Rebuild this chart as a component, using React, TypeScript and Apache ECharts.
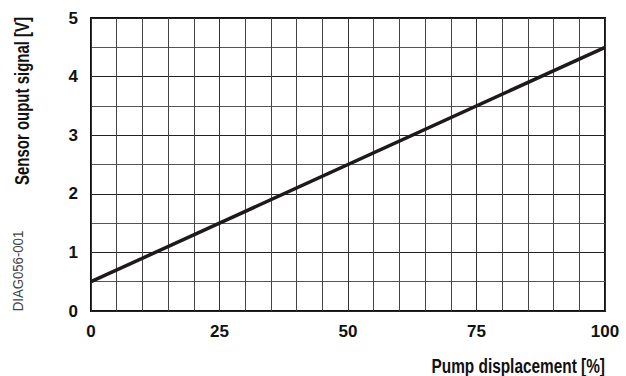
import React, { useEffect, useRef } from "react";
import * as echarts from "echarts";

const xValues = [0, 100];
const yValues = [0.5, 4.5];
const xTitle = "Pump displacement [%]";
const yTitle = "Sensor ouput signal [V]";
const docId = "DIAG056-001";

const FONT = "'Liberation Sans', Arial, sans-serif";

export default function App() {
  const ref = useRef<HTMLDivElement>(null);
  useEffect(() => {
    if (!ref.current) return;
    const chart = echarts.init(ref.current, null, { renderer: "svg" });
    chart.setOption({
      animation: false,
      backgroundColor: "#ffffff",
      grid: {
        left: 91,
        right: 21,
        top: 18,
        bottom: 65,
        show: true,
        borderColor: "#111",
        borderWidth: 2,
        backgroundColor: "transparent",
      },
      xAxis: {
        type: "value",
        min: 0,
        max: 100,
        interval: 25,
        axisLine: { show: false },
        axisTick: { show: false },
        axisLabel: { fontFamily: FONT, fontWeight: "bold", fontSize: 17, color: "#111", margin: 12 },
        splitLine: { show: true, lineStyle: { color: "#333", width: 1 } },
        minorTick: { show: false, splitNumber: 5 },
        minorSplitLine: { show: true, lineStyle: { color: "#444", width: 1 } },
      },
      yAxis: {
        type: "value",
        min: 0,
        max: 5,
        interval: 1,
        axisLine: { show: false },
        axisTick: { show: false },
        axisLabel: { fontFamily: FONT, fontWeight: "bold", fontSize: 17, color: "#111", margin: 13 },
        splitLine: { show: true, lineStyle: { color: "#222", width: 1 } },
        minorTick: { show: false, splitNumber: 2 },
        minorSplitLine: { show: true, lineStyle: { color: "#555", width: 1 } },
      },
      graphic: [
        {
          type: "text",
          x: 605,
          y: 366,
          scaleX: 0.77,
          style: {
            text: xTitle,
            fontFamily: FONT,
            fontWeight: "bold",
            fontSize: 20,
            fill: "#111",
            align: "right",
            verticalAlign: "middle",
          },
        },
        {
          type: "text",
          x: 22,
          y: 101,
          rotation: Math.PI / 2,
          scaleX: 0.75,
          style: {
            text: yTitle,
            fontFamily: FONT,
            fontWeight: "bold",
            fontSize: 20,
            fill: "#111",
            align: "center",
            verticalAlign: "middle",
          },
        },
        {
          type: "text",
          x: 18,
          y: 271,
          rotation: Math.PI / 2,
          scaleX: 0.85,
          style: {
            text: docId,
            fontFamily: FONT,
            fontSize: 15.5,
            fill: "#444",
            align: "center",
            verticalAlign: "middle",
          },
        },
      ],
      series: [
        {
          type: "line",
          data: xValues.map((x, i) => [x, yValues[i]]),
          showSymbol: false,
          lineStyle: { color: "#1e1a1b", width: 3.5 },
          z: 5,
        },
      ],
    });
    return () => chart.dispose();
  }, []);
  return <div ref={ref} style={{ position: "fixed", left: 0, top: 0, width: 626, height: 376 }} />;
}
